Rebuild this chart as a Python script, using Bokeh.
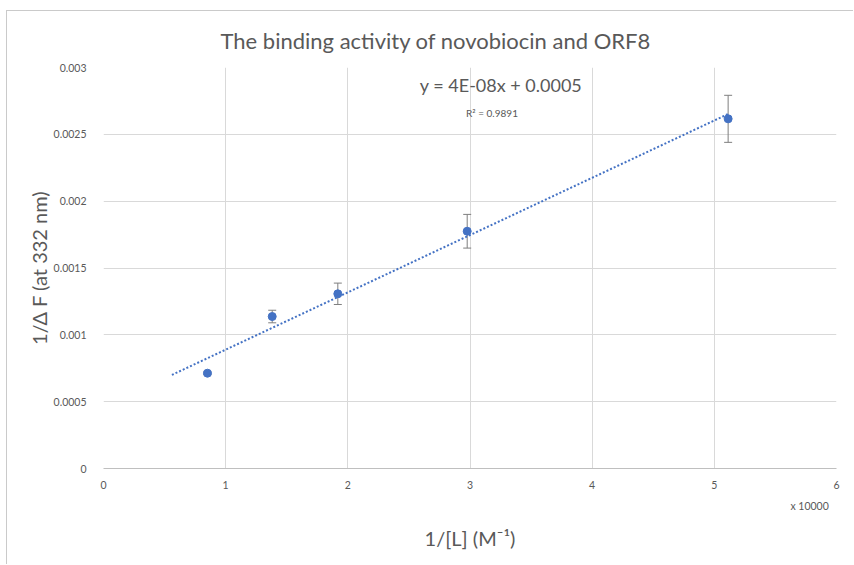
import numpy as np
from bokeh.plotting import figure
from bokeh.models import (ColumnDataSource, Whisker, TeeHead, Label, FixedTicker, Range1d,
                          LinearAxis)
from bokeh.embed import file_html
from bokeh.resources import INLINE

# ---- data ----
inv_L = [0.851, 1.381, 1.918, 2.977, 5.113]          # 1/[L]  (x 10000 M^-1)
inv_dF = [0.000713, 0.001137, 0.001307, 0.001775, 0.002616]
err = [0.00001, 0.000047, 0.00008, 0.000126, 0.000176]
trend_range = [0.56, 5.113]
x_ticks = [0, 1, 2, 3, 4, 5, 6]
y_ticks = [0, 0.0005, 0.001, 0.0015, 0.002, 0.0025, 0.003]
y_tick_labels = ["0", "0.0005", "0.001", "0.0015", "0.002", "0.0025", "0.003"]
x_multiplier_pos = [5.78]
x_multiplier_text = ["x 10000"]

FONT = "Lato"
GREY = "#595959"
BLUE = "#4472C4"

p = figure(width=847, height=554, output_backend="svg", toolbar_location=None,
           x_range=Range1d(0, 6), y_range=Range1d(0, 0.003),
           min_border_left=96, min_border_right=18, min_border_top=56, min_border_bottom=97)
p.styles = {"margin-left": "6px", "margin-top": "10px",
            "border-left": "1px solid #cacaca", "border-top": "1px solid #cacaca"}
p.outline_line_color = None
p.background_fill_color = "white"
p.border_fill_color = "white"

# title
p.title.text = "The binding activity of novobiocin and ORF8"
p.title.align = "left"
p.title.offset = 117
p.title.standoff = 27
p.title.text_font = FONT
p.title.text_font_size = "22px"
p.title.text_font_style = "normal"
p.title.text_color = GREY

# grid
p.xgrid.ticker = FixedTicker(ticks=x_ticks)
p.ygrid.ticker = FixedTicker(ticks=y_ticks)
for g in (p.xgrid[0], p.ygrid[0]):
    g.grid_line_color = "#d9d9d9"
    g.grid_line_width = 1

# axes
p.xaxis.ticker = FixedTicker(ticks=x_ticks)
p.yaxis.ticker = FixedTicker(ticks=y_ticks)
p.yaxis.major_label_overrides = {t: s for t, s in zip(y_ticks, y_tick_labels)}
p.xaxis.major_label_overrides = {t: str(t) for t in x_ticks}
for ax in (p.xaxis[0], p.yaxis[0]):
    ax.major_tick_line_color = None
    ax.minor_tick_line_color = None
    ax.major_label_text_font = FONT
    ax.major_label_text_font_size = "10.5px"
    ax.major_label_text_color = GREY
p.yaxis.axis_line_color = None
p.xaxis.axis_line_color = "#bfbfbf"
p.yaxis.major_label_standoff = 11
p.xaxis.major_label_standoff = 6

p.yaxis.axis_label = "1/Δ F (at 332 nm)"
p.yaxis.axis_label_text_font = FONT
p.yaxis.axis_label_text_font_size = "20px"
p.yaxis.axis_label_text_font_style = "normal"
p.yaxis.axis_label_text_color = GREY
p.yaxis.axis_label_standoff = 0

# second bottom axis: "x 10000" multiplier and the x title
ax2 = LinearAxis(ticker=FixedTicker(ticks=x_multiplier_pos),
                 major_label_overrides={k: v for k, v in zip(x_multiplier_pos, x_multiplier_text)})
ax2.axis_line_color = None
ax2.major_tick_line_color = None
ax2.minor_tick_line_color = None
ax2.major_label_text_font = FONT
ax2.major_label_text_font_size = "10.5px"
ax2.major_label_text_color = GREY
ax2.major_label_standoff = 2
ax2.axis_label = "1/[L] (M⁻¹)"
ax2.axis_label_text_font = FONT
ax2.axis_label_text_font_size = "20px"
ax2.axis_label_text_font_style = "normal"
ax2.axis_label_text_color = GREY
ax2.axis_label_standoff = 11
p.add_layout(ax2, "below")

# trendline (least squares fit, like the spreadsheet's linear trendline)
slope, intercept = np.polyfit(inv_L, inv_dF, 1)
tx = np.array(trend_range)
p.line(tx, slope * tx + intercept, line_color=BLUE, line_width=2, line_dash="2 2")

# error bars
src = ColumnDataSource(dict(x=inv_L, y=inv_dF,
                            lo=[v - e for v, e in zip(inv_dF, err)],
                            hi=[v + e for v, e in zip(inv_dF, err)]))
wh = Whisker(source=src, base="x", upper="hi", lower="lo", line_color="#7f7f7f", line_width=1,
             upper_head=TeeHead(size=8, line_color="#7f7f7f", line_width=1),
             lower_head=TeeHead(size=8, line_color="#7f7f7f", line_width=1))
p.add_layout(wh)

p.scatter("x", "y", source=src, size=8, fill_color=BLUE, line_color=BLUE)

# trendline equation
p.add_layout(Label(x=3.254, y=0.002872, text="y = 4E-08x + 0.0005", text_font=FONT,
                   text_font_size="18px", text_color=GREY, text_align="center", text_baseline="middle"))
p.add_layout(Label(x=3.18, y=0.002663, text="R² = 0.9891", text_font=FONT,
                   text_font_size="10px", text_color=GREY, text_align="center", text_baseline="middle"))

open("out.html", "w").write(file_html(p, INLINE))
